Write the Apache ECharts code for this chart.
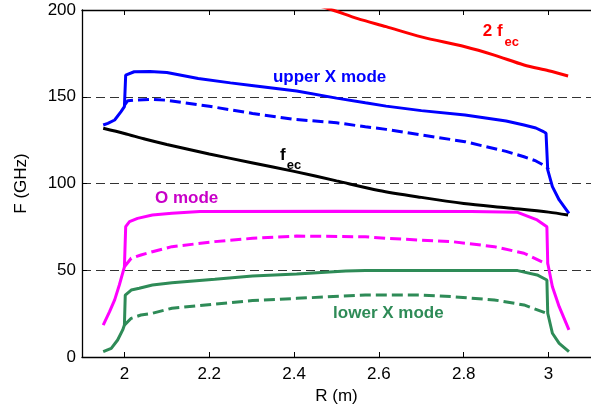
<!DOCTYPE html>
<html>
<head>
<meta charset="utf-8">
<script src="https://cdn.jsdelivr.net/npm/echarts@6/dist/echarts.min.js"></script>
<style>
  html, body { margin: 0; padding: 0; background: #fff; }
  #main { width: 591px; height: 415px; }
</style>
</head>
<body>
<div id="main"></div>
<script>
// tick values on the R axis
var rTicks = [2, 2.2, 2.4, 2.6, 2.8, 3];

// [R (m), F (GHz)]
var fec = [[1.95,131.8],[2.0,128.8],[2.05,125.5],[2.1,122.5],[2.2,117],[2.3,112],[2.4,107],[2.5,101.5],
    [2.6,96],[2.7,92],[2.8,88.5],[2.9,86],[3.0,83.5],[3.046,81.8]];
var fec2 = [[2.45,203],[2.491,200],[2.55,195],[2.617,190.4],[2.7,184.5],[2.803,178.8],[2.872,174],
    [2.942,168.3],[3.0,165],[3.046,162]];
var upperX = [[1.95,133.7],[1.961,134.7],[1.977,136.6],[1.992,141.4],[2.0,144.3],[2.003,162.5],[2.023,164.4],
    [2.06,164.6],[2.1,164],[2.174,160.5],[2.25,158],[2.3,156.5],[2.406,153.3],[2.5,149.2],[2.568,146.5],
    [2.617,144.6],[2.7,142],[2.803,139.5],[2.9,136],[2.942,133.7],[2.97,132],[2.988,129.9],[2.994,128.9],
    [2.998,107.8],[3.009,98.2],[3.025,90.5],[3.048,82.8]];
var upperXd = [[2.0,145],[2.008,147.7],[2.023,148.1],[2.06,148.5],[2.1,148],[2.2,144.5],[2.302,140.4],
    [2.4,137],[2.5,135],[2.568,132.7],[2.617,131.2],[2.7,128],[2.803,124.1],[2.9,118.5],[2.942,115.4],
    [2.97,113],[2.995,109.7],[3.0,108]];
var oMode = [[1.95,18.4],[1.965,26.1],[1.977,32.9],[1.988,41.5],[2.0,52],[2.003,75.1],[2.012,78],
    [2.031,79.9],[2.066,81.8],[2.112,82.8],[2.178,83.8],[2.5,84],[2.818,83.8],[2.927,83.4],[2.973,79],
    [2.996,75.1],[2.998,54],[3.009,40.5],[3.025,29],[3.048,15.6]];
var oModeD = [[2.0,52],[2.016,56.9],[2.039,58.8],[2.066,60.7],[2.112,63.6],[2.213,66.5],[2.302,68.4],
    [2.406,69.7],[2.568,69.3],[2.617,68.4],[2.772,66.5],[2.872,63.6],[2.942,59.8],[2.992,54],[2.998,54]];
var lowerX = [[1.95,3.1],[1.969,5],[1.984,9.8],[1.996,15.6],[2.0,18.4],[2.002,35.7],[2.016,38.6],
    [2.035,39.6],[2.066,41.5],[2.112,42.8],[2.213,44.8],[2.302,46.7],[2.406,47.8],[2.522,49.6],
    [2.568,49.8],[2.927,49.8],[2.973,47.3],[2.996,44.4],[2.998,25.2],[3.009,13.7],[3.025,7.9],[3.048,3.1]];
var lowerXd = [[2.0,18.4],[2.016,22.3],[2.039,24.2],[2.066,25.2],[2.112,28.1],[2.213,30.5],[2.302,32.5],
    [2.406,33.8],[2.568,35.7],[2.7,35.7],[2.772,34.8],[2.872,32.9],[2.942,30],[2.996,25.2]];

var FONT = 'Liberation Sans, Arial, Helvetica, sans-serif';
var GREEN = '#2e8b57';

function line(data, color, dashed, smooth) {
    return {
        type: 'line',
        data: data,
        showSymbol: false,
        silent: true,
        clip: true,
        smooth: smooth || false,
        lineStyle: { color: color, width: 3, type: dashed ? [11, 5] : 'solid' }
    };
}

var chart = echarts.init(document.getElementById('main'));

var option = {
    animation: false,
    backgroundColor: '#fff',
    grid: { left: 82, top: 10, width: 518, bottom: 58 },
    xAxis: [{
        type: 'value', min: 1.9, max: 3.1,
        name: 'R (m)', nameLocation: 'middle', nameGap: 31,
        nameTextStyle: { fontSize: 17, fontFamily: FONT, color: '#000' },
        axisLine: { lineStyle: { color: '#000', width: 1.3 } },
        axisTick: { inside: true, length: 5, customValues: rTicks, lineStyle: { color: '#000' } },
        axisLabel: { customValues: rTicks, fontSize: 17, fontFamily: FONT, color: '#000', margin: 9 },
        splitLine: { show: false }
    }, {
        type: 'value', min: 1.9, max: 3.1, position: 'top',
        axisLine: { lineStyle: { color: '#000', width: 1.3 } },
        axisTick: { inside: true, length: 5, customValues: rTicks, lineStyle: { color: '#000' } },
        axisLabel: { show: false },
        splitLine: { show: false }
    }],
    yAxis: {
        type: 'value', min: 0, max: 200, interval: 50,
        name: 'F (GHz)', nameLocation: 'middle', nameGap: 52,
        nameTextStyle: { fontSize: 17, fontFamily: FONT, color: '#000' },
        axisLine: { show: true, lineStyle: { color: '#000', width: 1.3 } },
        axisTick: { show: true, inside: true, length: 5, lineStyle: { color: '#000' } },
        axisLabel: { fontSize: 17, fontFamily: FONT, color: '#000', margin: 6 },
        splitLine: { show: true, lineStyle: { color: '#333', width: 1, type: [9, 5] } }
    },
    series: [
        line(fec2, '#ff0000', false, 0.3),
        line(upperX, '#0000ff', false),
        line(upperXd, '#0000ff', true),
        line(fec, '#000000', false, 0.3),
        line(oMode, '#ff00ff', false),
        line(oModeD, '#ff00ff', true),
        line(lowerX, GREEN, false),
        line(lowerXd, GREEN, true)
    ]
};
chart.setOption(option);

// text labels anchored in data coordinates
function label(text, r, f, color, size) {
    var p = chart.convertToPixel({ xAxisIndex: 0, yAxisIndex: 0 }, [r, f]);
    return {
        type: 'text', x: p[0], y: p[1], silent: true,
        style: { text: text, fill: color, font: 'bold ' + size + 'px ' + FONT, align: 'left', verticalAlign: 'middle' }
    };
}

chart.setOption({
    graphic: [
        label('upper X mode', 2.350, 161, '#0000ff', 17),
        label('2 f', 2.845, 187.6, '#ff0000', 17),
        label('ec', 2.896, 181.3, '#ff0000', 13),
        label('f', 2.367, 116, '#000000', 17),
        label('ec', 2.383, 110.7, '#000000', 13),
        label('O mode', 2.072, 91.6, '#c800c8', 17),
        label('lower X mode', 2.492, 25.4, GREEN, 17)
    ]
});
</script>
</body>
</html>
